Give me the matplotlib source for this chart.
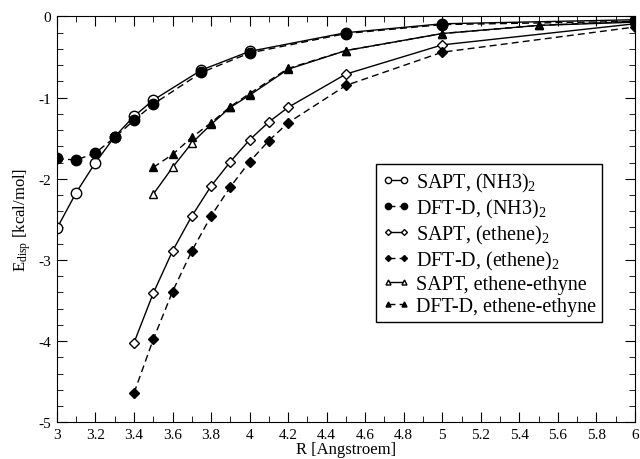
import matplotlib
matplotlib.use('Agg')
import matplotlib.pyplot as plt
from matplotlib.ticker import MultipleLocator

plt.rcParams['font.family'] = ['Liberation Serif', 'DejaVu Serif']
plt.rcParams['mathtext.default'] = 'regular'
plt.rcParams['axes.unicode_minus'] = False

r_nh3 = [3.0, 3.1, 3.2, 3.3, 3.4, 3.5, 3.75, 4.0, 4.5, 5.0, 6.0]
sapt_nh3 = [-2.61, -2.17, -1.80, -1.48, -1.23, -1.03, -0.66, -0.43, -0.20, -0.09, -0.04]
dftd_nh3 = [-1.75, -1.77, -1.68, -1.49, -1.28, -1.08, -0.69, -0.45, -0.21, -0.10, -0.06]

r_eth = [3.4, 3.5, 3.6, 3.7, 3.8, 3.9, 4.0, 4.1, 4.2, 4.5, 5.0, 6.0]
sapt_eth = [-4.02, -3.41, -2.89, -2.46, -2.09, -1.79, -1.52, -1.30, -1.12, -0.71, -0.35, -0.09]
dftd_eth = [-4.64, -3.98, -3.39, -2.89, -2.46, -2.10, -1.79, -1.53, -1.31, -0.85, -0.44, -0.13]

r_ee = [3.5, 3.6, 3.7, 3.8, 3.9, 4.0, 4.2, 4.5, 5.0, 5.5, 6.0]
sapt_ee = [-2.19, -1.86, -1.56, -1.33, -1.12, -0.97, -0.65, -0.42, -0.21, -0.11, -0.07]
dftd_ee = [-1.86, -1.70, -1.49, -1.31, -1.11, -0.95, -0.64, -0.42, -0.21, -0.11, -0.06]

fig = plt.figure(figsize=(6.4, 4.6), dpi=100)
ax = fig.add_axes([0.089, 0.080, 0.903, 0.882])

dash = (0, (5, 3))
ax.plot(r_nh3, sapt_nh3, 'k-', marker='o', mfc='white', ms=7.5, lw=1, label='SAPT, (NH3)$_2$')
ax.plot(r_nh3, dftd_nh3, 'k', ls=dash, marker='o', ms=7.5, lw=1, label='DFT-D, (NH3)$_2$')
ax.plot(r_eth, sapt_eth, 'k-', marker='D', mfc='white', ms=5, lw=1, label='SAPT, (ethene)$_2$')
ax.plot(r_eth, dftd_eth, 'k', ls=dash, marker='D', ms=5, lw=1, label='DFT-D, (ethene)$_2$')
ax.plot(r_ee, sapt_ee, 'k-', marker='^', mfc='white', ms=6, lw=1, label='SAPT, ethene-ethyne')
ax.plot(r_ee, dftd_ee, 'k', ls=dash, marker='^', ms=6, lw=1, label='DFT-D, ethene-ethyne')

ax.set_xlim(3, 6)
ax.set_ylim(-5, 0)
ax.xaxis.set_major_locator(MultipleLocator(0.2))
ax.xaxis.set_minor_locator(MultipleLocator(0.1))
ax.yaxis.set_major_locator(MultipleLocator(1))
ax.yaxis.set_minor_locator(MultipleLocator(0.2))
ax.xaxis.set_major_formatter(plt.FuncFormatter(lambda v, p: ('%.1f' % v).rstrip('0').rstrip('.')))
ax.tick_params(which='both', direction='in', top=True, right=True, labelsize=11)
ax.tick_params(which='major', length=7, pad=4)
ax.tick_params(which='minor', length=4)

ax.set_xlabel('R [Angstroem]', fontsize=12, labelpad=0)
ax.set_ylabel('E$_{disp}$ [kcal/mol]', fontsize=12, labelpad=4)

leg = ax.legend(loc='upper left', bbox_to_anchor=(0.534, 0.66), fontsize=14.5, numpoints=2,
                handlelength=1.4, handletextpad=0.3, labelspacing=0.15, borderpad=0.3,
                fancybox=False, edgecolor='black', framealpha=1, markerscale=0.6)
leg.get_frame().set_linewidth(1)

plt.savefig('out.png')
